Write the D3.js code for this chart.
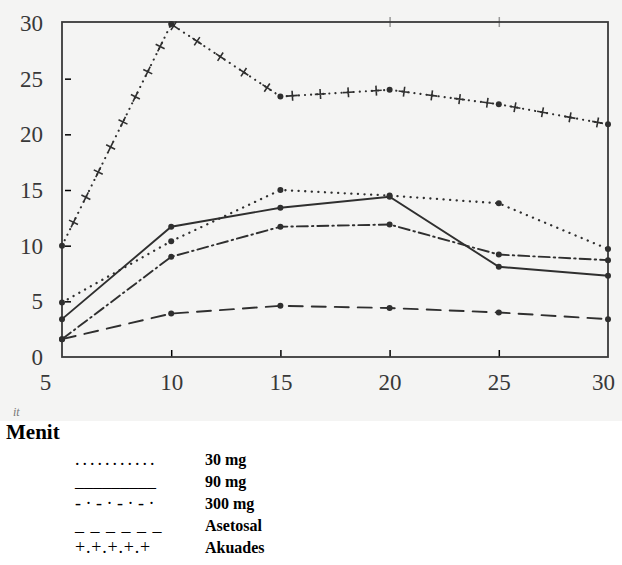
<!DOCTYPE html>
<html>
<head>
<meta charset="utf-8">
<script src="https://cdnjs.cloudflare.com/ajax/libs/d3/7.8.5/d3.min.js"></script>
<style>
  body { margin: 0; background: #fff; }
  text { font-family: "Liberation Serif", "Times New Roman", serif; }
</style>
</head>
<body>
<div id="wrapper"></div>
<script>
// minutes after treatment
const menit = [5, 10, 15, 20, 25, 30];

// one value per minute
const mg30 = [4.9, 10.4, 15.0, 14.5, 13.8, 9.7];
const mg90 = [3.4, 11.7, 13.4, 14.4, 8.1, 7.3];
const mg300 = [1.6, 9.0, 11.7, 11.9, 9.2, 8.7];
const asetosal = [1.6, 3.9, 4.6, 4.4, 4.0, 3.4];
const akuades = [10.0, 29.9, 23.4, 24.0, 22.7, 20.9];

const yTicks = [0, 5, 10, 15, 20, 25, 30];
const xTicks = [5, 10, 15, 20, 25, 30];

const legendNames = ["30 mg", "90 mg", "300 mg", "Asetosal", "Akuades"];
const legendSamples = ["...........", "_________", "-·-·-·-·", "_ _ _ _ _ _", "+.+.+.+.+"];

function drawChart() {
    let dimensions = {
        width: 622,
        height: 565,
        scanHeight: 421,
        margin: { top: 22, right: 14, bottom: 208, left: 62 }
    }
    dimensions.boundedWidth = dimensions.width - dimensions.margin.left - dimensions.margin.right;
    dimensions.boundedHeight = dimensions.height - dimensions.margin.top - dimensions.margin.bottom;

    const ink = "#2f2f2f";

    const svg = d3.select("#wrapper")
        .append("svg")
        .attr("width", dimensions.width)
        .attr("height", dimensions.height);

    // grey paper of the scanned part
    svg.append("rect")
        .attr("width", dimensions.width)
        .attr("height", dimensions.scanHeight)
        .attr("fill", "#f4f4f3");

    const xScale = d3.scaleLinear()
        .domain([5, 30])
        .range([dimensions.margin.left, dimensions.margin.left + dimensions.boundedWidth]);

    const yScale = d3.scaleLinear()
        .domain([0, 30])
        .range([dimensions.margin.top + dimensions.boundedHeight, dimensions.margin.top + 1]);

    const x0 = xScale(5), x1 = xScale(30);
    const yTop = dimensions.margin.top, yBot = yScale(0);

    // axes
    const left = svg.append("g")
        .attr("transform", `translate(${x0},0)`)
        .call(d3.axisLeft(yScale).tickValues(yTicks).tickSize(-9).tickPadding(19));
    left.select(".domain").remove();
    left.selectAll(".tick line").attr("x1", 3).filter(d => d === 0 || d === 30).remove();
    left.selectAll("text")
        .style("font-size", "23px")
        .attr("fill", "#383838");

    const bottom = svg.append("g")
        .attr("transform", `translate(0,${yBot})`)
        .call(d3.axisBottom(xScale).tickValues(xTicks).tickSize(-7).tickPadding(17));
    bottom.select(".domain").remove();
    bottom.selectAll(".tick line").filter(d => d === 5 || d === 30).remove();
    bottom.selectAll("text")
        .style("font-size", "23px")
        .attr("fill", "#383838")
        .attr("dx", d => d === 5 ? -17 : d === 30 ? -5 : 0);

    const top = svg.append("g")
        .attr("transform", `translate(0,${yTop})`)
        .call(d3.axisTop(xScale).tickValues([20, 25]).tickSize(4).tickFormat(""));
    top.select(".domain").remove();
    top.selectAll(".tick line").attr("y2", 5).attr("y1", -5).attr("stroke", "#999");

    svg.selectAll(".tick line").attr("stroke-width", 1.5);

    // frame
    svg.append("rect")
        .attr("x", x0)
        .attr("y", yTop)
        .attr("width", x1 - x0)
        .attr("height", yBot - yTop)
        .attr("fill", "none")
        .attr("stroke", "#3a3a3a")
        .attr("stroke-width", 1.8);

    const line = d3.line()
        .x((d, i) => xScale(menit[i]))
        .y(d => yScale(d));

    const series = [
        { values: mg30, dash: "0.1,6.5", width: 2.3 },
        { values: mg90, dash: null, width: 1.9 },
        { values: mg300, dash: "11,4,1.5,4", width: 1.9 },
        { values: asetosal, dash: "14,9", width: 1.9 },
        { values: akuades, dash: "0.1,6", width: 2.1 }
    ];

    series.forEach(s => {
        const path = svg.append("path")
            .datum(s.values)
            .attr("d", line)
            .attr("fill", "none")
            .attr("stroke", ink)
            .attr("stroke-width", s.width)
            .attr("stroke-linecap", "round")
            .attr("stroke-dasharray", s.dash);

        svg.append("g")
            .selectAll("circle")
            .data(s.values)
            .join("circle")
            .attr("cx", (d, i) => xScale(menit[i]))
            .attr("cy", d => yScale(d))
            .attr("r", 3)
            .attr("fill", ink);

        s.path = path;
    });

    // plus signs strung along the Akuades line
    const akPath = series[4].path.node();
    const total = akPath.getTotalLength();
    const plusG = svg.append("g");
    for (let s = 26; s < total - 4; s += 28) {
        const p = akPath.getPointAtLength(s);
        const q = akPath.getPointAtLength(Math.min(total, s + 1));
        const angle = Math.atan2(q.y - p.y, q.x - p.x) * 180 / Math.PI;
        plusG.append("path")
            .attr("d", "M-5.5,0H5.5M0,-5V5")
            .attr("transform", `translate(${p.x},${p.y}) rotate(${angle})`)
            .attr("stroke", ink)
            .attr("stroke-width", 1.6)
            .attr("fill", "none");
    }

    // cut-off text at the bottom edge of the scan
    svg.append("text")
        .attr("x", 13)
        .attr("y", 416)
        .attr("fill", "#777")
        .style("font-size", "12px")
        .style("font-style", "italic")
        .text("it");

    // legend below the scan
    svg.append("text")
        .attr("x", 6)
        .attr("y", 439)
        .attr("fill", "#000")
        .style("font-size", "21px")
        .style("font-weight", "bold")
        .text("Menit");

    const sampleSpacing = [3, 0, 4.5, 1, 0.8];

    const legend = svg.append("g")
        .selectAll("g")
        .data(legendNames)
        .join("g")
        .attr("transform", (d, i) => `translate(0,${465 + i * 22})`);

    legend.append("text")
        .attr("x", 75)
        .attr("fill", "#000")
        .style("font-size", "18px")
        .style("letter-spacing", (d, i) => sampleSpacing[i] + "px")
        .text((d, i) => legendSamples[i]);

    legend.append("text")
        .attr("x", 205)
        .attr("fill", "#000")
        .style("font-size", "16px")
        .style("font-weight", "bold")
        .text(d => d);
}

drawChart();
</script>
</body>
</html>
